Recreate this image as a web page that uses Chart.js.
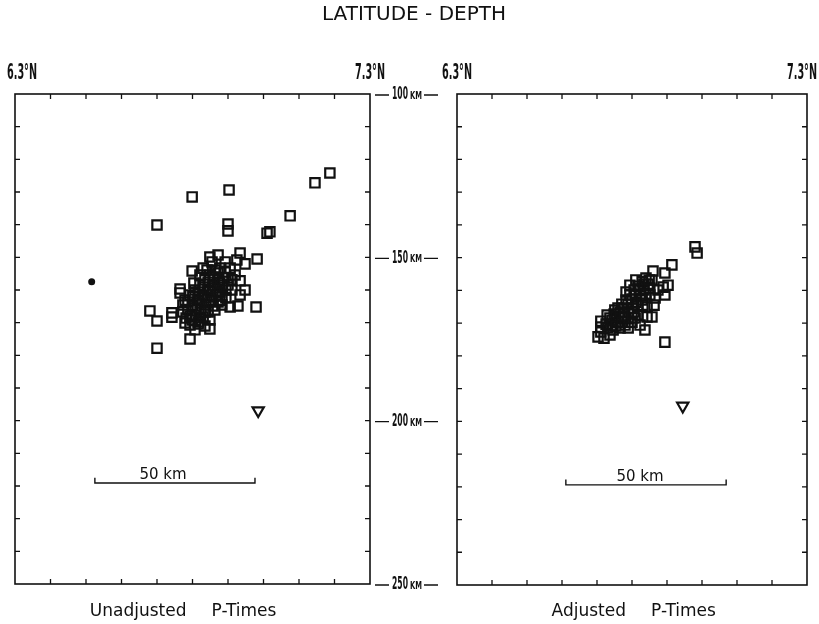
<!DOCTYPE html>
<html>
<head>
<meta charset="utf-8">
<script src="https://cdn.jsdelivr.net/npm/chart.js@4.4.0/dist/chart.umd.min.js"></script>
<style>
  body { margin: 0; background: #fff; }
  #wrap { position: relative; width: 819px; height: 624px; }
  #wrap canvas { position: absolute; left: 0; top: 0; }
</style>
</head>
<body>
<div id="wrap">
  <canvas id="unadjustedChart" width="819" height="624"></canvas>
  <canvas id="adjustedChart" width="819" height="624"></canvas>
</div>
<script>
// hypocentres, unadjusted P-times (latitude in deg N, depth in km)
const unadjLat = [
    7.187, 7.145, 6.903, 6.799, 7.075, 6.700, 6.900, 6.900, 7.010, 7.018,
    6.849, 6.872, 6.934, 6.982, 6.948, 6.925, 6.799, 6.934, 6.765, 6.765,
    6.680, 6.700, 6.742, 6.742, 6.979, 6.883, 6.906, 6.928, 6.849, 6.849,
    6.793, 6.700, 6.793, 6.816, 6.779, 6.793, 6.807, 6.821, 6.835, 6.849,
    6.863, 6.877, 6.892, 6.900, 6.787, 6.801, 6.816, 6.830, 6.844, 6.858,
    6.872, 6.883, 6.810, 6.824, 6.838, 6.852, 6.866, 6.877, 6.782, 6.799,
    6.821, 6.835, 6.863, 6.894, 6.911, 6.920, 6.892, 6.821, 6.773, 6.804,
    6.906, 6.855, 6.894, 6.934, 6.948, 6.877, 6.830, 6.773, 6.787, 6.801,
    6.816, 6.830, 6.844, 6.858, 6.872, 6.793, 6.807, 6.821, 6.835, 6.849,
    6.863, 6.877, 6.889, 6.816, 6.830, 6.844, 6.858, 6.872, 6.883, 6.779,
    6.807, 6.835, 6.900, 6.911, 6.841
];
const unadjDepth = [
    124.2, 127.2, 129.4, 131.5, 137.3, 140.1, 139.8, 141.9, 142.6, 142.2,
    149.9, 149.3, 148.7, 150.5, 152.0, 150.8, 154.2, 157.2, 159.7, 160.9,
    166.4, 169.5, 167.0, 168.3, 165.2, 164.6, 165.2, 164.9, 169.2, 171.9,
    175.0, 177.8, 170.7, 170.4, 163.1, 161.5, 160.0, 158.5, 156.9, 155.4,
    153.9, 153.3, 154.5, 156.3, 166.1, 164.6, 163.1, 161.5, 160.0, 158.5,
    156.9, 158.5, 167.7, 166.1, 164.6, 163.1, 161.5, 160.6, 168.6, 169.2,
    168.6, 166.7, 166.1, 162.4, 160.0, 155.4, 151.4, 155.4, 164.6, 157.9,
    153.3, 151.4, 160.0, 161.5, 160.0, 163.1, 153.3, 166.7, 163.7, 162.1,
    160.6, 159.1, 157.6, 156.0, 154.8, 168.0, 165.5, 164.0, 162.4, 160.6,
    159.4, 157.9, 156.3, 169.8, 168.3, 166.7, 164.9, 163.7, 161.8, 170.1,
    172.2, 171.0, 158.5, 156.9, 153.9
];

// hypocentres, adjusted P-times
const adjLat = [
    6.980, 6.986, 6.914, 6.860, 6.894, 6.903, 6.889, 6.894, 6.857, 6.894,
    6.837, 6.703, 6.711, 6.711, 6.711, 6.729, 6.751, 6.843, 6.843, 6.857,
    6.809, 6.874, 6.866, 6.737, 6.749, 6.760, 6.771, 6.783, 6.794, 6.806,
    6.817, 6.829, 6.840, 6.846, 6.834, 6.823, 6.811, 6.800, 6.789, 6.771,
    6.760, 6.743, 6.726, 6.780, 6.800, 6.817, 6.831, 6.851, 6.766, 6.789,
    6.823, 6.746, 6.794, 6.783, 6.811, 6.851, 6.863, 6.737, 6.720, 6.731,
    6.743, 6.754, 6.766, 6.777, 6.789, 6.800, 6.811, 6.823, 6.834, 6.754,
    6.771, 6.789, 6.806, 6.817, 6.829, 6.840, 6.849, 6.777, 6.800
];
const adjDepth = [
    146.7, 148.6, 152.2, 154.1, 154.7, 158.4, 159.0, 161.4, 156.8, 175.8,
    172.1, 174.2, 172.7, 171.2, 169.4, 167.5, 166.0, 165.1, 168.1, 168.1,
    168.4, 159.9, 162.3, 168.4, 167.2, 165.4, 164.2, 162.9, 161.4, 159.9,
    158.7, 157.4, 156.2, 158.1, 159.9, 161.7, 163.6, 165.4, 166.6, 168.4,
    169.7, 170.9, 170.3, 170.6, 169.7, 167.5, 164.5, 161.4, 171.5, 171.5,
    170.6, 172.1, 158.4, 160.5, 156.8, 159.3, 164.5, 173.6, 174.6, 171.5,
    169.1, 167.8, 166.6, 165.4, 164.2, 162.6, 161.1, 159.6, 158.1, 170.9,
    169.7, 168.4, 166.6, 164.8, 162.9, 161.1, 156.8, 167.8, 167.2
];

// inverted triangle, one per panel
const triLat = [6.985, 6.945];
const triDepth = [196.9, 195.3];

// filled dot, unadjusted panel only
const dotLat = [6.516];
const dotDepth = [157.5];

// 50 km scale bars: [start, end] latitude, depth, label position
const barLatLeft = [6.525, 6.976];
const barLatRight = [6.611, 7.069];
const barDepth = [219.1, 219.4];
const barLabelLat = [6.717, 6.823];

const latTicks = [6.3, 6.4, 6.5, 6.6, 6.7, 6.8, 6.9, 7.0, 7.1, 7.2, 7.3];
const latLabels = ['6.3°N', '7.3°N'];
const depthTicks = [100, 110, 120, 130, 140, 150, 160, 170, 180, 190, 200, 210, 220, 230, 240, 250];
const depthLabels = [100, 150, 200, 250];

const ink = '#111';

function points(lat, depth) {
    return lat.map((v, i) => ({ x: v, y: depth[i] }));
}

function scaleBar(lat, depth) {
    // ends turned up slightly
    return [
        { x: lat[0], y: depth - 1.6 },
        { x: lat[0], y: depth },
        { x: lat[1], y: depth },
        { x: lat[1], y: depth - 1.6 }
    ];
}

function narrowText(ctx, text, cx, cy, font, width, align) {
    ctx.save();
    ctx.font = font;
    const w = ctx.measureText(text).width;
    ctx.translate(cx, cy);
    ctx.scale(width / w, 1);
    ctx.textAlign = align || 'center';
    ctx.textBaseline = 'middle';
    ctx.fillStyle = ink;
    ctx.fillText(text, 0, 0);
    ctx.restore();
}

function drawFrame(chart) {
    const { ctx, chartArea: a, scales: { x, y } } = chart;
    ctx.save();
    ctx.strokeStyle = ink;
    ctx.lineWidth = 1.6;
    ctx.strokeRect(a.left, a.top, a.right - a.left, a.bottom - a.top);
    ctx.beginPath();
    latTicks.slice(1, -1).forEach(v => {
        const px = x.getPixelForValue(v);
        ctx.moveTo(px, a.top); ctx.lineTo(px, a.top + 5);
        ctx.moveTo(px, a.bottom); ctx.lineTo(px, a.bottom - 5);
    });
    depthTicks.slice(1, -1).forEach(v => {
        const py = y.getPixelForValue(v);
        ctx.moveTo(a.left, py); ctx.lineTo(a.left + 5, py);
        ctx.moveTo(a.right, py); ctx.lineTo(a.right - 5, py);
    });
    ctx.lineWidth = 1.3;
    ctx.stroke();
    ctx.restore();
}

function drawPanelText(chart, first, second, barIdx) {
    const { ctx, chartArea: a, scales: { x, y } } = chart;
    const W = chart.width;
    // latitude labels over the corners
    const latFont = 'bold 21px "DejaVu Sans Condensed", sans-serif';
    const lx0 = Math.max(x.getPixelForValue(6.3), 22);
    const lx1 = Math.min(x.getPixelForValue(7.3), W - 17);
    narrowText(ctx, latLabels[0], lx0, 74, latFont, 30);
    narrowText(ctx, latLabels[1], lx1, 74, latFont, 30);

    ctx.save();
    ctx.fillStyle = ink;
    ctx.font = '17px "DejaVu Sans", sans-serif';
    ctx.textBaseline = 'alphabetic';
    const mid = (a.left + a.right) / 2;
    ctx.textAlign = 'right';
    ctx.fillText(first, mid - 6, 616);
    ctx.textAlign = 'left';
    ctx.fillText(second, mid + 19, 616);

    // scale bar caption
    ctx.font = '15px "DejaVu Sans", sans-serif';
    ctx.textAlign = 'center';
    ctx.fillText('50 km', x.getPixelForValue(barLabelLat[barIdx]), y.getPixelForValue(barDepth[barIdx]) - 4);
    ctx.restore();
}

function drawSharedText(chart) {
    const { ctx, chartArea: a, scales: { y } } = chart;
    ctx.save();
    ctx.fillStyle = ink;
    ctx.font = '20px "DejaVu Sans", sans-serif';
    ctx.textAlign = 'center';
    ctx.textBaseline = 'middle';
    ctx.fillText('LATITUDE - DEPTH', 414, 15);
    ctx.restore();

    // depth labels in the gap between the panels
    depthLabels.forEach(d => {
        const py = y.getPixelForValue(d) + 1;
        ctx.save();
        ctx.strokeStyle = ink;
        ctx.lineWidth = 1.4;
        ctx.beginPath();
        ctx.moveTo(a.right + 5, py); ctx.lineTo(a.right + 19, py);
        ctx.moveTo(a.right + 54, py); ctx.lineTo(a.right + 68, py);
        ctx.stroke();
        ctx.restore();
        narrowText(ctx, String(d), a.right + 30, py, 'bold 17px "DejaVu Sans Condensed", sans-serif', 16);
        narrowText(ctx, 'KM', a.right + 46, py + 1, 'bold 11px "DejaVu Sans Condensed", sans-serif', 12);
    });
}

function panelChart(id, padding, datasets, textFn) {
    return new Chart(document.getElementById(id), {
        type: 'scatter',
        data: { datasets: datasets },
        options: {
            responsive: false,
            animation: false,
            layout: { padding: padding },
            plugins: {
                legend: { display: false },
                tooltip: { enabled: false }
            },
            scales: {
                x: {
                    type: 'linear', min: 6.3, max: 7.3,
                    grid: { display: false, drawTicks: false },
                    border: { display: false },
                    ticks: { display: false, stepSize: 0.1 }
                },
                y: {
                    type: 'linear', min: 100, max: 250, reverse: true,
                    grid: { display: false, drawTicks: false },
                    border: { display: false },
                    ticks: { display: false, stepSize: 10 }
                }
            }
        },
        plugins: [{
            id: 'panelFrame',
            afterDraw: chart => {
                drawFrame(chart);
                textFn(chart);
            }
        }]
    });
}

const squareStyle = {
    pointStyle: 'rect',
    pointRadius: 6.6,
    borderWidth: 2.2,
    borderColor: ink,
    backgroundColor: 'rgba(0,0,0,0)'
};
const triStyle = {
    pointStyle: 'triangle',
    rotation: 180,
    pointRadius: 6.5,
    borderWidth: 2.2,
    borderColor: ink,
    backgroundColor: 'rgba(0,0,0,0)'
};
const barStyle = {
    showLine: true,
    pointRadius: 0,
    borderWidth: 1.4,
    borderColor: ink,
    fill: false
};

const unadjustedChart = panelChart('unadjustedChart',
    { left: 15, top: 94, right: 449, bottom: 40 },
    [
        Object.assign({ label: 'Unadjusted', data: points(unadjLat, unadjDepth) }, squareStyle),
        Object.assign({ label: 'Triangle', data: [{ x: triLat[0], y: triDepth[0] }] }, triStyle),
        {
            label: 'Dot', data: points(dotLat, dotDepth),
            pointStyle: 'circle', pointRadius: 3.5, borderWidth: 0,
            backgroundColor: ink
        },
        Object.assign({ label: '50 km', data: scaleBar(barLatLeft, barDepth[0]) }, barStyle)
    ],
    chart => {
        drawSharedText(chart);
        drawPanelText(chart, 'Unadjusted', 'P-Times', 0);
    }
);

const adjustedChart = panelChart('adjustedChart',
    { left: 457, top: 94, right: 12, bottom: 39 },
    [
        Object.assign({ label: 'Adjusted', data: points(adjLat, adjDepth) }, squareStyle),
        Object.assign({ label: 'Triangle', data: [{ x: triLat[1], y: triDepth[1] }] }, triStyle),
        Object.assign({ label: '50 km', data: scaleBar(barLatRight, barDepth[1]) }, barStyle)
    ],
    chart => {
        drawPanelText(chart, 'Adjusted', 'P-Times', 1);
    }
);
</script>
</body>
</html>
